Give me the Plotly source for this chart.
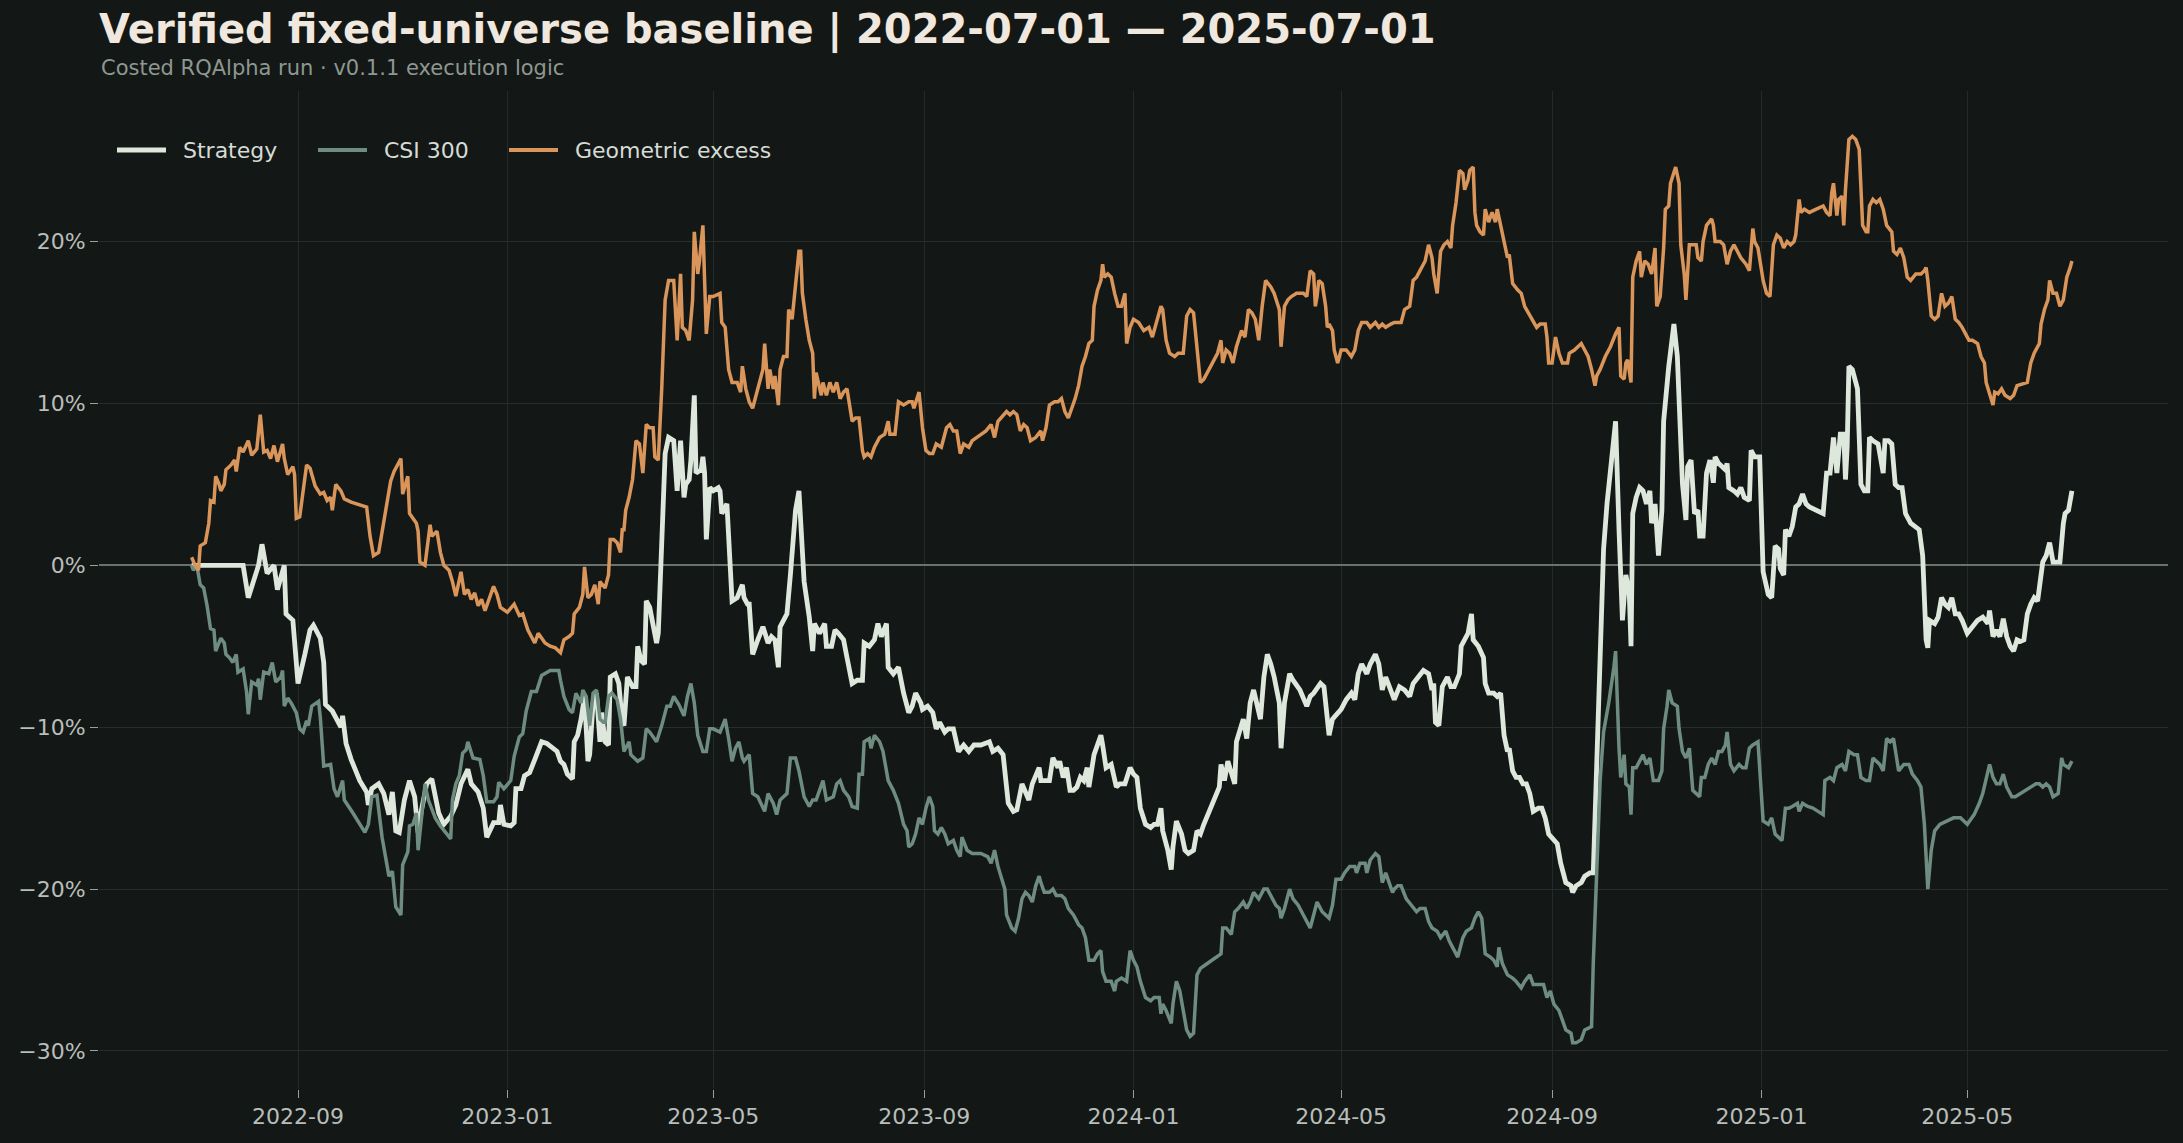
import pandas as pd
import plotly.graph_objects as go

# day offsets from 2022-07-01 and cumulative returns in percent
start = pd.Timestamp("2022-07-01")

strategy_day = [
    0, 30, 33, 39, 41, 44, 48, 50, 54, 55, 59, 62, 66, 69, 71, 75, 77, 78, 82, 85, 87, 88, 90, 93,
    98, 102, 103, 105, 109, 112, 115, 117, 119, 121, 124, 127, 130, 132, 134, 137, 140, 144, 147,
    151, 154, 157, 161, 163, 167, 170, 172, 176, 179, 180, 182, 186, 188, 189, 192, 194, 197, 200,
    202, 204, 207,
    209, 213, 215, 217, 219, 222, 223, 225, 227, 229, 231, 232, 234, 236, 238, 239, 241, 243, 244,
    247, 249, 251, 252, 254, 257, 259, 260, 262, 264, 265, 267, 269, 271, 272, 274, 276, 278, 281,
    283, 285, 287, 288, 290, 291, 293, 294, 297, 298, 299, 300, 302, 304, 307, 308, 309, 312, 314,
    315, 318, 321, 322, 324, 325, 327, 330, 333, 336, 338, 340, 342, 343, 347, 349, 352, 354, 356,
    357, 360, 362, 363, 366, 369, 370, 373, 375, 377, 380, 382, 385, 388, 391, 392, 395, 398, 400,
    402, 405, 406, 409, 412, 415, 418, 420, 422, 425, 426, 429,
    432, 434, 436, 439, 441, 444, 447, 450, 453, 456, 460, 465, 467, 470, 473, 476, 479, 481, 484,
    486, 488, 490, 492, 494, 495, 497, 500, 502, 505, 506, 508, 510, 512, 514, 516, 518, 520, 522,
    523, 526, 528, 530, 531, 533, 536, 539, 541, 544, 547, 549, 551, 553, 556, 559, 561, 563, 565,
    566, 569, 571, 572, 574, 577, 579, 581, 584, 586, 588, 590, 593, 596, 599, 600, 602, 604, 606,
    608, 609, 611, 613, 615, 617, 619, 621, 623, 625, 627, 629, 631, 634, 635, 637, 640, 642, 646,
    650, 652, 654,
    658, 660, 661, 663, 665, 667, 670, 673, 676, 678, 680, 682, 685, 687, 690, 692, 694, 696, 699,
    701, 704, 707, 710, 712, 715, 718, 721, 723, 724, 725, 727, 729, 732, 734, 736, 739, 740, 742,
    744, 746, 747, 750, 753, 754, 756, 759, 761, 763, 765, 767, 768, 770, 772, 774, 776, 778, 780,
    782, 785, 787, 789, 791, 793, 796, 798, 801, 804, 805, 807, 810, 812, 815, 817, 818, 820, 823,
    825, 828, 830, 832, 834, 836, 838, 839, 840, 842, 844, 846, 848, 850, 851, 853, 855, 857, 858,
    861, 864, 866, 867, 869, 871, 872, 874,
    876, 878, 879, 881, 882, 883, 885, 887, 888, 890, 892, 894, 895, 896, 899, 901, 903, 905, 908,
    909, 911, 914, 916, 919, 921, 923, 925, 926, 928, 929, 931, 933, 935, 937, 939, 941, 943, 947,
    951, 953, 955, 957, 959, 961, 963, 964, 965, 966, 968, 970, 971, 973, 975, 977, 978, 980, 983,
    986, 987, 989, 991, 993, 995, 997, 999, 1002, 1005, 1007, 1009, 1011, 1012, 1013, 1016, 1018,
    1020, 1022, 1024, 1026, 1028, 1030, 1032, 1035, 1038, 1041, 1044, 1046, 1047, 1048, 1050, 1052,
    1054, 1056, 1058, 1060, 1062, 1064, 1066, 1068, 1070, 1072, 1074, 1076, 1078, 1079, 1081, 1083,
    1085, 1087, 1089, 1091, 1092, 1094, 1095, 1096,
]
strategy_pct = [
    0, 0, -2.0, 0, 1.3, -0.5, 0, -1.5, 0, -3.0, -3.4, -7.3, -5.5, -4.0, -3.7, -4.5, -6.0, -8.6, -9.0,
    -9.6, -10.0, -9.3, -11.0, -12.0, -13.3, -14.0, -14.8, -13.8, -13.5, -14.1, -15.4, -14.0, -16.4,
    -16.5, -14.5, -13.3, -14.3, -16.5, -15.1, -13.5, -13.2, -15.3, -16.0, -15.5, -14.8, -13.5, -12.6,
    -13.5, -14.0, -15.0, -16.8, -15.9, -15.9, -14.8, -16.0, -16.1, -15.9, -13.8, -13.8, -13.0, -12.8,
    -12.0, -11.5, -10.9, -11.0,
    -11.2, -11.5, -12.1, -12.3, -12.9, -13.2, -10.9, -10.5, -9.5, -8.1, -12.1, -11.7, -8.5, -7.9,
    -10.9, -9.1, -10.9, -11.1, -6.9, -6.7, -7.3, -9.7, -9.9, -6.9, -7.5, -7.5, -5.0, -5.9, -6.1,
    -2.2, -2.6, -3.8, -4.8, -4.2, 1.0, 6.9, 7.9, 7.7, 4.6, 7.7, 4.2, 5.0, 5.3, 6.5, 10.5, 5.7, 5.9,
    6.7, 5.7, 1.6, 4.8, 4.6, 4.8, 4.6, 3.2, 3.8, -0.2, -2.2, -2.0, -1.2, -2.0, -2.4, -2.4, -5.5,
    -4.6, -3.8, -4.8, -4.4, -4.6, -6.3, -3.8, -3.0, -0.6, 3.4, 4.6, 1.0, -1.0, -3.2, -5.3, -3.6,
    -4.2, -3.6, -5.0, -5.0, -4.0, -4.2, -4.6, -5.7, -7.3, -7.1, -7.1, -4.8, -5.0, -4.6, -3.6, -4.4,
    -3.6, -6.3, -6.7, -6.3, -7.9, -9.1, -8.7, -7.9, -8.5, -8.9, -8.7,
    -9.1, -10.1, -9.7, -10.3, -10.1, -10.1, -11.5, -11.1, -11.5, -11.1, -11.1, -10.9, -11.5, -11.3,
    -11.7, -14.7, -15.2, -15.1, -13.5, -14.1, -14.5, -13.5, -12.9, -12.5, -13.3, -13.3, -13.3,
    -11.9, -12.5, -12.1, -13.1, -12.5, -13.9, -13.9, -13.7, -13.1, -13.3, -12.5, -13.7, -11.7,
    -11.1, -10.5, -11.1, -12.5, -12.3, -13.7, -13.5, -13.5, -12.5, -12.9, -13.1, -15.0, -16.0,
    -16.2, -16.0, -16.0, -15.0, -16.4, -17.6, -18.8, -17.4, -15.8, -16.6, -17.6, -17.8, -17.6,
    -16.4, -16.6, -16.0, -15.2, -14.5, -13.7, -12.3, -13.3, -12.1, -12.9, -13.5, -10.9, -10.1,
    -9.5, -10.7, -8.5, -7.7, -8.5, -9.5, -6.9, -5.5, -6.1, -6.9, -8.5, -11.3, -8.5, -6.7, -7.1,
    -7.7, -8.7, -8.1, -7.9,
    -7.3, -7.5, -8.5, -10.5, -9.5, -9.3, -8.9, -8.3, -7.9, -8.3, -6.7, -6.1, -6.7, -6.1, -5.5, -6.1,
    -7.7, -6.9, -7.7, -8.3, -7.5, -7.7, -8.1, -7.3, -6.9, -6.5, -6.7, -7.7, -7.3, -9.7, -9.9, -7.5,
    -6.9, -7.5, -7.5, -6.7, -5.0, -4.6, -4.2, -3.0, -4.6, -5.0, -5.7, -7.3, -7.9, -7.9, -8.1, -7.9,
    -10.5, -11.5, -11.3, -12.7, -13.1, -13.1, -13.5, -13.5, -14.1, -15.2, -15.0, -15.0, -15.6,
    -16.6, -16.8, -17.2, -18.4, -19.6, -19.8, -20.2, -19.8, -19.6, -19.2, -19.0, -19.0, -15.6,
    -7.3, 1.0, 3.8, 6.5, 8.9, 2.2, -3.4, -0.6, -1.8, -5.0, 3.2, 4.2, 4.8, 4.6, 3.8, 4.6, 2.6, 3.8,
    0.6, 3.4, 8.9, 12.3, 14.9, 12.9, 10.5, 5.0, 2.8, 6.1, 6.5,
    3.2, 3.4, 1.8, 1.8, 4.6, 5.7, 6.5, 5.1, 6.7, 6.3, 6.1, 5.9, 6.3, 4.8, 4.6, 4.4, 4.8, 4.2, 4.0,
    7.1, 6.7, 6.7, -0.4, -1.8, -2.0, 1.2, 1.0, -0.2, -0.6, 2.2, 1.8, 2.4, 3.6, 3.8, 4.4, 3.8, 3.6,
    3.4, 3.2, 5.7, 5.7, 7.9, 5.7, 8.1, 8.1, 5.3, 7.3, 12.3, 12.1, 11.3, 10.9, 5.0, 4.6, 4.6, 7.9,
    7.7, 7.5, 5.7, 7.7, 7.7, 7.5, 5.0, 4.8, 4.8, 3.2, 2.6, 2.4, 2.2, 0.6, -4.6, -5.1, -3.4, -3.6,
    -3.2, -2.0, -2.4, -2.6, -2.0, -3.0, -3.0, -3.4, -4.2, -3.8, -3.4, -3.2, -3.4, -3.6, -2.8, -4.4,
    -4.0, -4.4, -3.3, -4.4, -5.0, -5.3, -4.6, -4.7, -4.6, -3.0, -2.4, -2.0, -2.2, -0.4, 0.2, 0.6,
    1.4, 0.2, 0.2, 0.2, 2.6, 3.2, 3.4, 4.0, 4.6,
]

csi_day = [
    0, 1, 3, 5, 7, 9, 11, 13, 14, 17, 19, 20, 22, 24, 26, 27, 30, 32, 33, 35, 38, 39, 40, 42, 45,
    47, 49, 52, 53, 54, 56, 58, 61, 63, 65, 67, 68, 70, 74, 75, 77, 81, 83, 85, 88, 89, 94, 101,
    103, 105, 108, 111, 115, 117, 119, 122, 123, 126, 127, 129, 131, 132, 134, 136, 138, 142, 145,
    148, 151, 152, 154, 156, 158, 160, 161, 164, 168, 170, 172, 176, 178, 179, 182, 186, 188, 191,
    193, 195, 198, 201, 204,
    209, 214, 215, 217, 220, 222, 224, 227, 228, 230, 232, 234, 236, 238, 240, 241, 243, 245, 248,
    250, 252, 253, 255, 256, 258, 260, 263, 265, 267, 270, 271, 274, 277, 279, 281, 284, 287, 289,
    291, 293, 295, 298, 300, 302, 304, 308, 310, 311, 313, 315, 317, 319, 321, 322, 325, 327, 330,
    332, 334, 336, 339, 341, 343, 345, 347, 349, 352, 354, 357, 358, 360, 362, 364, 366, 368, 370,
    374, 376, 378, 380, 383, 385, 388, 389, 391, 392, 395, 396, 398, 401, 403, 406, 409, 412, 415,
    417, 418, 420, 422, 424, 426, 428,
    430, 432, 433, 435, 437, 439, 441, 444, 446, 448, 449, 452, 455, 460, 464, 466, 468, 470, 472,
    474, 475, 478, 480, 482, 484, 486, 488, 490, 492, 494, 495, 497, 500, 502, 504, 507, 509, 511,
    514, 517, 519, 521, 523, 526, 528, 530, 531, 533, 536, 538, 539, 542, 545, 547, 549, 551, 553,
    556, 559, 561, 564, 565, 566, 568, 571, 572, 574, 576, 578, 580, 582, 584, 586, 588, 592, 597,
    600, 601, 603, 606, 608, 610, 613, 615, 617, 619, 622, 625, 627, 629, 632, 634, 635, 637, 640,
    642, 645, 648, 650, 652,
    654, 656, 657, 659, 661, 663, 665, 666, 667, 670, 672, 675, 678, 679, 681, 684, 685, 687, 690,
    692, 694, 696, 698, 700, 701, 703, 705, 708, 711, 714, 716, 719, 721, 723, 726, 728, 731, 733,
    735, 738, 741, 743, 746, 748, 750, 752, 754, 757, 759, 761, 762, 764, 767, 770, 772, 775, 777,
    780, 782, 785, 788, 790, 792, 794, 797, 799, 801, 804, 805, 807, 810, 812, 816, 817, 819, 821,
    823, 826, 829, 830, 832, 833, 835, 836, 838, 839, 840, 842, 844, 846, 848, 850, 852, 855, 857,
    858, 860, 861, 863, 866, 867, 869, 871, 873,
    875, 877, 879, 880, 882, 884, 886, 888, 890, 892, 894, 895, 897, 899, 902, 904, 906, 908, 910,
    913, 916, 919, 921, 923, 925, 927, 929, 931, 933, 936, 937, 939, 942, 945, 948, 951, 952, 955,
    957, 959, 962, 964, 966, 969, 971, 973, 976, 978, 980, 982, 984, 986, 988, 990, 992, 995, 998,
    1001, 1003, 1006, 1008, 1010, 1012, 1014, 1016, 1019, 1023, 1027, 1031, 1035, 1039, 1042, 1044,
    1046, 1048, 1050, 1052, 1054, 1056, 1058, 1061, 1063, 1066, 1069, 1072, 1075, 1077, 1079, 1081,
    1083, 1085, 1088, 1090, 1091, 1094, 1095, 1096,
]
csi_pct = [
    0, -0.3, 0, -1.2, -1.4, -2.5, -3.9, -4.0, -5.3, -4.5, -4.8, -5.5, -5.7, -6.0, -5.5, -6.6, -6.4,
    -7.8, -9.2, -7.2, -7.4, -7.0, -8.3, -6.6, -6.7, -6.0, -7.2, -6.9, -6.5, -8.7, -8.2, -8.5, -9.1,
    -10.1, -10.3, -9.6, -9.9, -8.7, -8.4, -9.4, -12.4, -12.3, -13.8, -14.3, -13.3, -14.5, -15.3,
    -16.5, -16.0, -14.3, -14.2, -16.8, -19.2, -18.9, -21.1, -21.6, -18.5, -17.7, -16.1, -16.0,
    -15.3, -17.6, -15.6, -13.5, -14.5, -15.6, -16.1, -16.5, -16.9, -14.5, -13.5, -13.0, -11.6,
    -11.4, -10.9, -11.9, -12.0, -13.0, -14.6, -14.6, -14.3, -13.4, -13.8, -13.3, -11.8, -10.6,
    -10.4, -9.0, -7.8, -7.8, -6.8,
    -6.5, -6.5, -7.1, -8.1, -8.9, -9.1, -7.9, -8.5, -7.7, -8.1, -9.9, -7.9, -7.7, -9.5, -9.7, -9.7,
    -8.1, -7.9, -8.3, -9.5, -11.5, -11.3, -10.9, -11.7, -11.9, -12.1, -11.9, -10.1, -10.3, -10.7,
    -10.9, -9.9, -8.7, -8.7, -8.1, -8.6, -9.3, -8.1, -7.3, -8.5, -10.5, -11.5, -11.5, -10.1, -10.1,
    -10.3, -9.7, -9.5, -10.7, -12.1, -11.3, -10.9, -11.9, -12.1, -11.7, -14.1, -14.3, -14.7, -15.2,
    -14.1, -14.7, -15.4, -14.5, -14.3, -14.1, -11.9, -11.9, -12.7, -14.3, -14.5, -14.9, -14.5,
    -14.5, -13.9, -13.3, -14.5, -14.3, -13.5, -13.3, -13.9, -14.3, -14.9, -15.0, -12.9, -12.9,
    -10.9, -10.7, -11.3, -10.5, -10.9, -11.5, -13.3, -13.9, -14.7, -16.0, -16.4, -17.4, -17.2,
    -16.6, -15.6, -16.0, -15.0,
    -14.3, -14.9, -16.4, -16.6, -16.2, -16.6, -17.2, -17.0, -17.6, -18.0, -16.8, -17.6, -17.8,
    -17.8, -18.0, -18.4, -17.6, -18.6, -19.4, -20.0, -21.6, -22.4, -22.6, -21.8, -20.6, -20.2,
    -20.4, -20.8, -19.8, -19.2, -19.6, -20.2, -20.2, -20.0, -20.4, -20.4, -20.6, -21.2, -21.6,
    -22.2, -22.4, -23.0, -24.4, -24.4, -24.0, -23.8, -25.1, -25.7, -25.7, -26.3, -25.7, -25.5,
    -25.7, -23.8, -24.4, -24.8, -25.7, -26.7, -26.9, -26.7, -26.7, -27.7, -27.1, -27.5, -28.3,
    -27.1, -25.7, -26.3, -27.5, -28.7, -29.1, -28.9, -25.3, -24.9, -24.6, -24.2, -24.0, -22.4,
    -22.4, -22.8, -21.4, -21.2, -20.8, -21.2, -20.8, -20.2, -20.6, -20.0, -20.0, -20.4, -21.0,
    -21.2, -21.8, -21.2, -20.0, -20.6, -21.0, -21.6, -22.0, -22.4,
    -21.6, -20.8, -21.0, -21.4, -21.6, -21.8, -21.0, -20.0, -19.4, -19.4, -19.0, -18.6, -18.6,
    -19.0, -18.4, -18.4, -19.0, -18.2, -17.8, -18.0, -19.6, -19.0, -19.6, -20.2, -20.0, -19.8,
    -19.8, -20.6, -21.0, -21.4, -21.2, -21.2, -22.0, -22.4, -22.6, -23.0, -22.6, -23.2, -23.6,
    -24.2, -23.0, -22.6, -22.4, -21.8, -21.4, -21.8, -24.0, -24.2, -24.4, -24.8, -23.6, -24.6,
    -25.3, -25.5, -25.7, -26.1, -25.7, -25.3, -25.9, -25.9, -25.9, -26.7, -26.3, -27.1, -27.5,
    -28.1, -28.7, -28.9, -29.5, -29.5, -29.3, -28.7, -28.5, -24.6, -19.2, -13.3, -10.3, -8.5, -6.3,
    -5.3, -11.3, -13.1, -11.7, -13.5, -13.7, -15.4, -12.5, -12.5, -12.1, -11.7, -12.3, -11.9,
    -13.3, -13.3, -12.7, -10.1, -8.7, -7.7, -8.5, -8.7, -10.1, -11.5, -11.9, -11.3,
    -13.9, -14.1, -14.3, -13.1, -13.1, -12.3, -11.9, -12.3, -11.5, -11.5, -11.1, -10.3, -12.3,
    -12.7, -12.3, -12.5, -12.5, -11.3, -11.1, -10.9, -15.8, -16.0, -15.6, -16.6, -16.8, -17.0,
    -15.0, -15.0, -14.9, -14.7, -15.2, -14.7, -14.9, -15.0, -15.2, -15.4, -13.3, -13.1, -13.3,
    -12.5, -12.3, -12.7, -11.5, -11.7, -11.7, -13.1, -13.3, -13.3, -11.9, -12.1, -12.3, -12.7,
    -10.7, -10.9, -10.7, -12.7, -12.3, -12.3, -12.9, -13.3, -13.7, -16.0, -20.0, -17.6, -16.4,
    -16.0, -15.8, -15.6, -15.6, -16.0, -15.4, -14.7, -14.1, -13.3, -12.3, -13.1, -13.5, -13.5,
    -12.9, -13.7, -14.3, -14.3, -14.1, -13.9, -13.7, -13.5, -13.5, -13.7, -13.5, -13.7, -14.3,
    -14.1, -11.9, -12.3, -12.5, -12.3, -12.1,
]

excess_day = [
    0, 2, 4, 5, 8, 10, 11, 13, 14, 16, 17, 19, 20, 23, 25, 26, 28, 30, 33, 35, 38, 40, 42, 44, 46,
    48, 50, 53, 54, 56, 59, 60, 61, 63, 65, 67, 69, 72, 75, 77, 79, 81, 82, 84, 87, 89, 93, 102,
    104, 106, 109, 113, 116, 118, 122, 123, 126, 127, 131, 132, 133, 136, 139, 140, 143, 145, 147,
    150, 152, 154, 157, 159, 161, 163, 165, 167, 169, 171, 176, 178, 180, 184, 188, 191, 193, 196,
    200, 202, 206,
    209, 212, 215, 217, 220, 222, 223, 226, 228, 229, 231, 233, 235, 237, 238, 241, 243, 244, 246,
    248, 250, 251, 252, 253, 255, 257, 259, 261, 263, 265, 267, 269, 270, 272, 274, 276, 278, 281,
    283, 285, 286, 288, 290, 292, 293, 295, 296, 298, 299, 300, 302, 304, 308, 309, 311, 313, 315,
    318, 320, 321, 323, 325, 327, 330, 333, 334, 336, 337, 339, 340, 342, 343, 345, 347, 348, 350,
    352, 354, 355, 356, 358, 360, 362, 363, 364, 367, 368, 370, 372, 374, 376, 378, 380, 382, 385,
    387, 389, 391, 392, 394, 396, 398, 401, 404, 406, 407, 410, 412, 415, 418, 420, 421, 424, 426,
    428,
    430, 432, 434, 437, 440, 442, 444, 446, 448, 450, 453, 455, 460, 463, 466, 468, 470, 473, 475,
    477, 479, 481, 483, 485, 487, 489, 492, 495, 496, 498, 500, 503, 505, 507, 509, 511, 513, 515,
    517, 519, 521, 523, 525, 526, 528, 530, 531, 532, 534, 536, 538, 540, 542, 544, 545, 547, 549,
    552, 555, 558, 560, 562, 565, 566, 568, 570, 573, 575, 578, 580, 582, 584, 586, 588, 590, 594,
    598, 600, 601, 603, 605, 607, 609, 612, 614, 616, 618, 620, 622, 624, 626, 629, 631, 634, 635,
    637, 639, 641, 644, 648, 650, 652,
    654, 655, 656, 657, 659, 661, 662, 663, 665, 666, 668, 670, 673, 676, 678, 680, 682, 685, 687,
    690, 692, 694, 696, 699, 701, 703, 705, 707, 710, 712, 714, 716, 719, 721, 723, 724, 726, 728,
    730, 732, 734, 735, 737, 739, 741, 742, 744, 745, 747, 748, 749, 751, 753, 754, 756, 758, 760,
    761, 763, 765, 767, 768, 770, 773, 775, 777, 780, 782, 784, 786, 789, 790, 791, 793, 795, 797,
    799, 802, 803, 806, 808, 810, 812, 814, 816, 818, 819, 821, 824, 827, 830, 832, 833, 835, 836,
    837, 839, 840, 842, 844, 845, 847, 849, 851, 853, 854, 856, 858, 859, 861, 862, 864, 865, 867,
    868, 870, 871, 873,
    875, 877, 878, 880, 881, 883, 886, 887, 888, 891, 893, 895, 897, 899, 901, 903, 906, 908, 910,
    911, 913, 915, 916, 918, 920, 922, 924, 926, 928, 930, 932, 934, 935, 937, 938, 940, 943, 947,
    951, 953, 955, 956, 957, 959, 960, 962, 963, 964, 966, 968, 970, 972, 973, 974, 976, 977, 978,
    980, 982, 984, 986, 988, 991, 992, 994, 996, 998, 1000, 1002, 1005, 1008, 1010, 1011, 1012,
    1014, 1016, 1018, 1020, 1022, 1024, 1026, 1028, 1030, 1032, 1034, 1036, 1038, 1041, 1043, 1045,
    1046, 1048, 1050, 1051, 1053, 1055, 1057, 1060, 1062, 1064, 1068, 1070, 1072, 1074, 1077, 1078,
    1080, 1082, 1083, 1085, 1087, 1089, 1091, 1093, 1095, 1096,
]
excess_pct = [
    0.5, 0.0, -0.3, 1.2, 1.4, 2.6, 4.0, 3.9, 5.5, 5.0, 4.6, 5.0, 5.9, 6.2, 6.5, 5.8, 7.3, 7.0, 7.7,
    6.8, 7.2, 9.3, 7.0, 7.1, 6.6, 7.4, 6.4, 7.5, 6.6, 5.6, 6.1, 5.6, 2.9, 3.0, 4.6, 6.2, 6.0, 4.9,
    4.4, 4.5, 4.0, 4.2, 3.4, 5.0, 4.6, 4.1, 3.9, 3.6, 1.8, 0.6, 0.8, 3.5, 5.2, 5.8, 6.6, 4.4, 5.5,
    3.2, 2.6, 2.1, 0.2, 0.0, 2.5, 1.8, 2.1, 0.8, 0.0, -0.3, -1.0, -1.9, -0.4, -1.8, -1.5, -2.1,
    -1.7, -2.5, -2.1, -2.8, -1.3, -1.8, -2.6, -2.9, -2.4, -3.1, -3.0, -4.0, -4.8, -4.2, -4.8,
    -5.0, -5.1, -5.4, -4.6, -4.4, -4.2, -3.0, -2.6, -1.8, -0.1, -2.0, -1.8, -1.2, -2.4, -1.0, -1.4,
    -0.6, 1.6, 1.6, 1.4, 0.8, 2.2, 2.2, 3.4, 4.2, 5.3, 7.7, 7.5, 5.7, 8.7, 8.5, 8.5, 6.7, 6.5,
    10.9, 16.4, 17.6, 17.6, 13.9, 18.0, 14.7, 14.5, 13.9, 16.4, 20.6, 18.0, 18.8, 21.0, 17.6, 14.3,
    16.6, 16.6, 16.8, 15.0, 14.7, 12.1, 11.3, 11.3, 10.7, 12.3, 10.9, 10.1, 9.7, 10.9, 12.1, 13.7,
    10.9, 12.1, 10.9, 11.7, 9.9, 12.1, 12.9, 12.9, 15.8, 15.2, 17.6, 19.4, 19.4, 16.8, 15.2, 13.9,
    13.1, 10.3, 11.9, 10.5, 11.3, 10.5, 11.3, 10.7, 11.3, 10.3, 10.7, 10.9, 8.9, 9.1, 9.1, 7.1,
    6.7, 6.9, 6.7, 7.3, 7.9, 8.1, 8.9, 8.1, 8.1, 10.1, 9.9, 10.1, 10.1, 9.7, 10.7, 8.5, 7.1,
    6.9, 6.9, 7.5, 7.3, 8.5, 8.7, 8.3, 8.3, 6.9, 7.5, 7.3, 7.7, 8.1, 8.3, 8.7, 7.9, 8.9, 9.3, 9.5,
    9.3, 9.5, 9.3, 8.3, 8.7, 8.5, 7.7, 7.9, 8.3, 7.7, 8.5, 9.9, 10.1, 10.1, 10.3, 9.5, 9.1, 9.7,
    10.3, 11.1, 12.3, 12.9, 13.7, 13.9, 16.0, 17.0, 17.6, 18.6, 17.8, 18.0, 17.8, 16.8, 16.0, 16.0,
    16.8, 13.7, 14.7, 15.2, 15.0, 14.5, 14.7, 14.1, 14.9, 16.0, 15.8, 13.9, 13.1, 12.9, 13.1,
    13.1, 15.4, 15.8, 15.6, 13.3, 11.3, 11.5, 12.3, 13.1, 13.9, 12.5, 13.3, 13.1, 12.5, 13.5,
    14.5, 14.1, 15.8, 15.6, 15.2, 13.9, 16.0, 17.6, 17.2, 16.8, 15.8, 13.5, 16.0, 16.4, 16.6,
    16.8, 16.8, 16.6, 18.2,
    18.0, 16.0, 16.6, 17.6, 17.4, 16.0, 14.7, 14.9, 14.5, 13.3, 12.5, 13.3, 13.3, 12.9, 13.3, 14.5,
    15.0, 15.0, 14.7, 15.0, 14.7, 14.9, 14.7, 14.9, 15.0, 15.0, 15.0, 15.8, 16.0, 17.6, 17.8, 18.2,
    18.8, 19.8, 19.0, 18.0, 16.8, 19.4, 19.8, 20.0, 19.6, 21.0, 22.4, 24.4, 24.2, 23.2, 23.8, 24.4,
    24.6, 21.8, 21.0, 20.6, 20.4, 22.0, 21.2, 21.8, 21.2, 22.0, 21.0, 20.0, 19.0, 19.2, 17.4,
    17.0, 16.8, 16.0, 15.4, 15.0, 14.7, 14.9, 14.9, 14.1, 12.5, 12.5, 14.1, 13.1, 12.5, 12.5,
    13.1, 13.3, 13.5, 13.7, 13.3, 12.9, 12.1, 11.1, 11.7, 12.1, 12.9, 13.5, 14.3, 14.7, 11.7,
    11.5, 12.5, 12.7, 11.3, 17.8, 18.8, 19.4, 17.8, 18.8, 18.6, 18.0, 19.6, 16.0, 16.6, 19.6,
    22.0, 22.2, 23.6, 24.4, 24.6, 23.6, 19.8, 18.0, 16.4, 19.8,
    19.8, 19.8, 19.0, 18.8, 20.0, 21.0, 21.4, 21.0, 20.0, 20.0, 19.8, 18.6, 19.4, 19.8, 19.4,
    19.0, 18.6, 18.2, 20.8, 20.0, 19.6, 18.4, 17.6, 16.8, 16.6, 19.8, 20.4, 20.2, 19.6, 20.0,
    19.8, 20.0, 20.4, 22.6, 21.8, 22.0, 21.8, 22.0, 22.2, 21.8, 21.6, 23.0, 23.6, 21.6, 22.6,
    22.8, 21.0, 23.2, 26.3, 26.5, 26.3, 25.7, 23.6, 21.0, 20.6, 20.6, 22.2, 22.6, 22.4, 22.6,
    22.0, 21.0, 20.6, 19.4, 19.2, 19.6, 19.0, 17.8, 17.6, 18.0, 18.0, 18.2, 18.4, 17.6, 15.4,
    15.2, 15.4, 16.8, 16.0, 16.2, 16.6, 15.2, 15.0, 14.7, 14.3, 13.9, 13.9, 13.7, 12.9, 12.5,
    11.3, 10.5, 9.9, 10.7, 10.6, 10.9, 10.5, 10.3, 10.5, 11.1, 11.2, 11.3, 12.5, 13.1, 13.7,
    14.9, 15.8, 16.4, 17.6, 16.8, 16.8, 16.0, 16.4, 17.8, 18.4, 18.8,
]

y_ticks = [-30, -20, -10, 0, 10, 20]
y_labels = ["−30%", "−20%", "−10%", "0%", "10%", "20%"]

series_names = ["Strategy", "CSI 300", "Geometric excess"]
series_colors = ["#dde7dc", "#6e8c80", "#d9955a"]
series_widths = [4.8, 3.5, 3.5]

BG = "#131816"
FONT = "DejaVu Sans"
W, H = 2183, 1143
M_L, M_R, M_T, M_B = 99, 15, 91, 54


def to_dates(days):
    return start + pd.to_timedelta(days, unit="D")


def px_x(px):
    # figure pixel -> paper x
    return (px - M_L) / (W - M_L - M_R)


def px_y(px):
    # figure pixel (from top) -> paper y
    return (H - M_B - px) / (H - M_T - M_B)


fig = go.Figure()
all_days = [strategy_day, csi_day, excess_day]
all_vals = [strategy_pct, csi_pct, excess_pct]
for name, days, vals, color, width in zip(series_names, all_days, all_vals,
                                          series_colors, series_widths):
    fig.add_trace(go.Scatter(x=to_dates(days), y=vals, name=name, mode="lines",
                             line=dict(color=color, width=width)))

# legend drawn by hand so swatch length and spacing match
shapes = []
annotations = []
legend_x = [117, 318, 509]
for i, name in enumerate(series_names):
    x0 = legend_x[i]
    shapes.append(dict(type="line", xref="paper", yref="paper",
                       x0=px_x(x0), x1=px_x(x0 + 49), y0=px_y(150), y1=px_y(150),
                       line=dict(color=series_colors[i], width=series_widths[i] + 0.4)))
    annotations.append(dict(text=name, xref="paper", yref="paper",
                            x=px_x(x0 + 64), y=px_y(151), xanchor="left", yanchor="middle",
                            showarrow=False,
                            font=dict(family=FONT, size=22, color="#d6dbd5")))

annotations.append(dict(
    text="Costed RQAlpha run · v0.1.1 execution logic",
    xref="paper", yref="paper", x=0, y=px_y(68), xanchor="left", yanchor="middle",
    showarrow=False, font=dict(family=FONT, size=21, color="#8e9791"),
))

fig.update_layout(
    width=W, height=H,
    paper_bgcolor=BG, plot_bgcolor=BG,
    margin=dict(l=M_L, r=M_R, t=M_T, b=M_B),
    font=dict(family=FONT, size=22, color="#b9beba"),
    title=dict(
        text="<b>Verified fixed-universe baseline | 2022-07-01 — 2025-07-01</b>",
        font=dict(family=FONT, size=40, color="#f0e8de"),
        x=0, xref="paper", xanchor="left",
        y=1 - 29 / H, yref="container", yanchor="middle",
    ),
    annotations=annotations,
    shapes=shapes,
    showlegend=False,
)
fig.update_xaxes(
    range=["2022-05-08", "2025-08-26"],
    tick0="2022-09-01", dtick="M4", tickformat="%Y-%m",
    showgrid=True, gridcolor="#232a27", gridwidth=1.2,
    showline=False, zeroline=False,
    ticks="outside", ticklen=8, tickwidth=1.3, tickcolor="#9aa19c",
)
fig.update_yaxes(
    range=[-32.35, 29.3],
    tickvals=y_ticks, ticktext=y_labels,
    showgrid=True, gridcolor="#262d2a", gridwidth=1.2,
    showline=False, zeroline=True, zerolinecolor="#69736e", zerolinewidth=1.6,
    ticks="outside", ticklen=8, tickwidth=1.3, tickcolor="#9aa19c",
)

fig.write_html(
    "out.html",
    config={"displayModeBar": False},
    post_script="document.body.style.margin='0';document.body.style.background='#131816';",
)
